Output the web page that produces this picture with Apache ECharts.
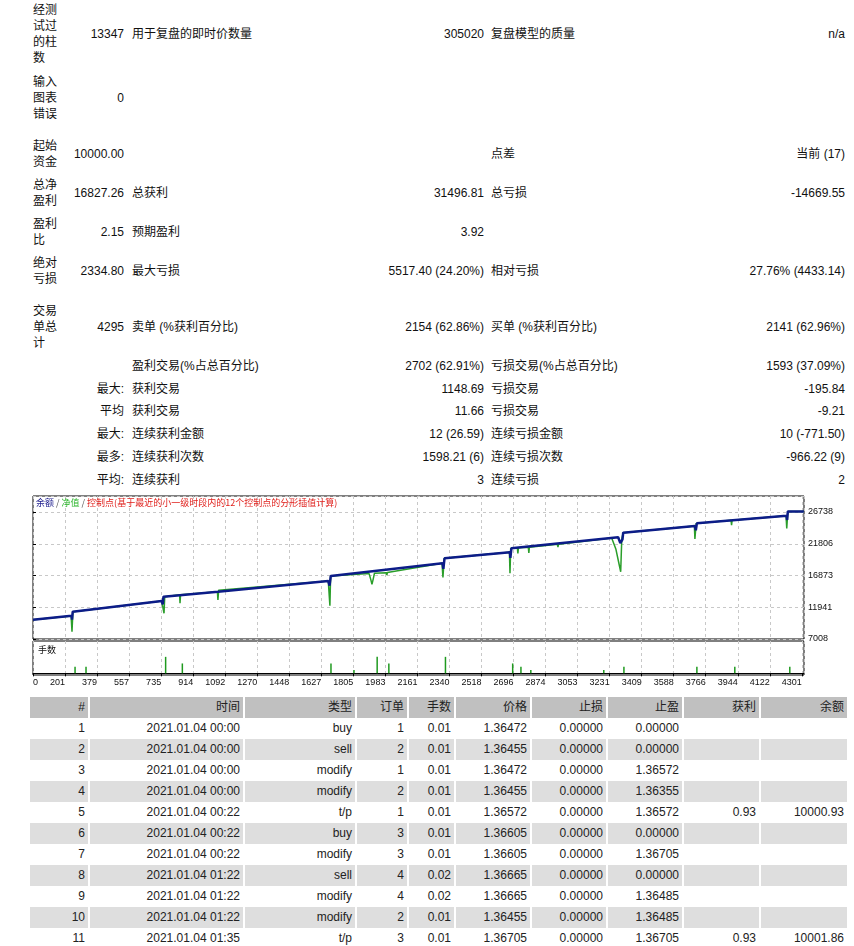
<!DOCTYPE html>
<html lang="zh">
<head>
<meta charset="UTF-8">
<title>Strategy Tester Report</title>
<script src="https://cdn.jsdelivr.net/npm/echarts@6.0.0/dist/echarts.min.js"></script>
<style>
    body { margin:0; width:854px; height:946px; overflow:hidden; background:#fff; position:relative;
           font-family:"Liberation Sans","Noto Sans CJK SC",sans-serif; font-size:12px; color:#111; }
    .cell { position:absolute; transform:translateY(-50%); white-space:nowrap; line-height:16px; }
    .ca { left:33px; width:26px; white-space:normal; word-break:break-all; }
    .cb { left:40px; width:84px; text-align:right; }
    .cc { left:132px; }
    .cd { left:300px; width:184px; text-align:right; }
    .ce { left:491px; }
    .cf { left:600px; width:245px; text-align:right; }
    #trades { position:absolute; left:28px; top:697px; width:821px; border-collapse:separate; border-spacing:2px 0;
              table-layout:fixed; font-size:12px; }
    #trades th, #trades td { box-sizing:border-box; height:21px; line-height:21px; padding:0 3px 0 0;
              text-align:right; font-weight:normal; white-space:nowrap; overflow:hidden; color:#222; }
    #trades th { background:#c0c0c0; }
    #trades tr.g td { background:#dedede; }
    #tu { position:absolute; left:0; top:490px; width:854px; height:205px; }
</style>
</head>
<body>
<div id="stats"></div>
<div id="tu"></div>
<table id="trades"></table>
<script type="text/javascript">
    // 报告统计（六列）
    var statLabelA = ['经测试过的柱数', '输入图表错误', '起始资金', '总净盈利', '盈利比', '绝对亏损', '交易单总计', '', '', '', '', '', ''];
    var statValueB = ['13347', '0', '10000.00', '16827.26', '2.15', '2334.80', '4295', '', '最大:', '平均', '最大:', '最多:', '平均:'];
    var statLabelC = ['用于复盘的即时价数量', '', '', '总获利', '预期盈利', '最大亏损', '卖单 (%获利百分比)', '盈利交易(%占总百分比)', '获利交易', '获利交易', '连续获利金额', '连续获利次数', '连续获利'];
    var statValueD = ['305020', '', '', '31496.81', '3.92', '5517.40 (24.20%)', '2154 (62.86%)', '2702 (62.91%)', '1148.69', '11.66', '12 (26.59)', '1598.21 (6)', '3'];
    var statLabelE = ['复盘模型的质量', '', '点差', '总亏损', '', '相对亏损', '买单 (%获利百分比)', '亏损交易(%占总百分比)', '亏损交易', '亏损交易', '连续亏损金额', '连续亏损次数', '连续亏损'];
    var statValueF = ['n/a', '', '当前 (17)', '-14669.55', '', '27.76% (4433.14)', '2141 (62.96%)', '1593 (37.09%)', '-195.84', '-9.21', '10 (-771.50)', '-966.22 (9)', '2'];

    // 余额/净值曲线（交易序号, 金额）
    var balancePoints = [[0,10000],[215,10620],[217,10000],[221,11250],[716,12900],[722,12400],[726,13580],
        [1029,14350],[1033,14600],[1643,16020],[1650,15300],[1657,16800],[2279,18770],[2283,17900],[2290,19545],
        [2654,20480],[2656,19600],[2662,21100],[3256,22810],[3268,21900],[3280,22500],[3284,23520],
        [3683,24560],[3688,23900],[3694,24980],[4193,26160],[4196,25500],[4200,26827],[4289,26827]];
    var equityPoints = [[0,10000],[212,10600],[217,8140],[222,11250],[716,12900],[727,12950],[729,11000],[733,13570],
        [816,13880],[818,12550],[821,13900],[1026,14340],[1029,13070],[1033,14600],[1643,16020],[1650,16000],
        [1652,12180],[1656,16790],[1870,17170],[1880,16200],[1886,15500],[1892,16200],[1900,17220],[1966,17300],
        [1969,16950],[1972,17340],[2276,18760],[2281,16560],[2288,19540],[2651,20470],[2654,17215],[2658,21090],
        [2695,21150],[2698,20320],[2701,21170],[2756,21260],[2759,20370],[2762,21280],[2918,21710],[2921,21300],
        [2924,21720],[3220,22700],[3243,21000],[3262,18500],[3270,17460],[3276,22500],[3284,23520],[3680,24550],
        [3683,22540],[3690,24970],[3884,25450],[3887,24700],[3890,25460],[4190,26150],[4194,24200],[4200,26827],[4289,26827]];
    var lotPoints = [[234,0.02],[295,0.02],[738,0.05],[831,0.03],[1658,0.03],[1786,0.01],[1915,0.05],[1980,0.03],
        [2295,0.05],[2669,0.03],[2715,0.02],[2770,0.01],[3176,0.01],[3288,0.02],[3694,0.02],[3905,0.02],[4211,0.02]];
    var xTickLabels = ['0','201','379','557','735','914','1092','1270','1448','1627','1805','1983','2161','2340',
        '2518','2696','2874','3053','3231','3409','3588','3766','3944','4122','4301'];

    // 交易明细
    var tradeHeaders = ['#', '时间', '类型', '订单', '手数', '价格', '止损', '止盈', '获利', '余额'];
    var tradeTimes = ['2021.01.04 00:00','2021.01.04 00:00','2021.01.04 00:00','2021.01.04 00:00','2021.01.04 00:22',
        '2021.01.04 00:22','2021.01.04 00:22','2021.01.04 01:22','2021.01.04 01:22','2021.01.04 01:22','2021.01.04 01:35'];
    var tradeTypes = ['buy','sell','modify','modify','t/p','buy','modify','sell','modify','modify','t/p'];
    var tradeOrders = [1,2,1,2,1,3,3,4,4,2,3];
    var tradeLots = ['0.01','0.01','0.01','0.01','0.01','0.01','0.01','0.02','0.02','0.01','0.01'];
    var tradePrices = ['1.36472','1.36455','1.36472','1.36455','1.36572','1.36605','1.36605','1.36665','1.36665','1.36455','1.36705'];
    var tradeSL = ['0.00000','0.00000','0.00000','0.00000','0.00000','0.00000','0.00000','0.00000','0.00000','0.00000','0.00000'];
    var tradeTP = ['0.00000','0.00000','1.36572','1.36355','1.36572','0.00000','1.36705','0.00000','1.36485','1.36485','1.36705'];
    var tradeProfit = ['','','','','0.93','','','','','','0.93'];
    var tradeBalance = ['','','','','10000.93','','','','','','10001.86'];

    // 布局
    var rowCenters = [34, 98, 154, 192.5, 231.5, 271, 327, 366, 389, 411, 434, 457, 480];
    var colWidths = [58, 153, 110, 50, 45, 74, 74, 74, 75, 86];

    var html = '';
    rowCenters.forEach(function (y, i) {
        var cols = [['ca', statLabelA], ['cb', statValueB], ['cc', statLabelC], ['cd', statValueD], ['ce', statLabelE], ['cf', statValueF]];
        cols.forEach(function (c) {
            if (c[1][i] !== '') html += '<div class="cell ' + c[0] + '" style="top:' + y + 'px">' + c[1][i] + '</div>';
        });
    });
    document.getElementById('stats').innerHTML = html;

    var t = '<colgroup>';
    colWidths.forEach(function (w) { t += '<col style="width:' + w + 'px">'; });
    t += '</colgroup><tr>';
    tradeHeaders.forEach(function (h) { t += '<th>' + h + '</th>'; });
    t += '</tr>';
    for (var i = 0; i < tradeTimes.length; i++) {
        t += '<tr class="' + (i % 2 ? 'g' : '') + '"><td>' + (i + 1) + '</td><td>' + tradeTimes[i] + '</td><td>' + tradeTypes[i] +
            '</td><td>' + tradeOrders[i] + '</td><td>' + tradeLots[i] + '</td><td>' + tradePrices[i] + '</td><td>' + tradeSL[i] +
            '</td><td>' + tradeTP[i] + '</td><td>' + tradeProfit[i] + '</td><td>' + tradeBalance[i] + '</td></tr>';
    }
    document.getElementById('trades').innerHTML = t;

    var xStep = 178.25;
    var dashGrid = { show: true, lineStyle: { color: '#c8c8c8', type: [3, 3], width: 1 } };
    var font = 'Liberation Sans';
    var thisChart = echarts.init(document.getElementById('tu'));
    var option = {
        animation: false,
        title: [{
            left: 36, top: 8, padding: 0,
            text: '{a|余额} {s|/} {b|净值} {s|/} {c|控制点(基于最近的小一级时段内的12个控制点的分形插值计算)}',
            textStyle: {
                fontSize: 9, fontWeight: 'normal', fontFamily: 'Noto Sans CJK SC',
                rich: {
                    a: { color: '#1a1a8c', fontSize: 9 },
                    b: { color: '#2ab52a', fontSize: 9 },
                    c: { color: '#e0201c', fontSize: 9 },
                    s: { color: '#555', fontSize: 9 }
                }
            }
        }, {
            left: 38, top: 155, padding: 0, text: '手数',
            textStyle: { fontSize: 9, fontWeight: 'normal', color: '#111', fontFamily: 'Noto Sans CJK SC' }
        }],
        grid: [
            { left: 33, right: 50, top: 6, height: 143, show: true, borderColor: '#000', borderWidth: 1 },
            { left: 33, right: 50, top: 151, height: 34, show: true, borderColor: '#000', borderWidth: 1 }
        ],
        xAxis: [
            { type: 'value', gridIndex: 0, min: 0, max: 4290, interval: xStep, axisLine: { show: false },
              axisTick: { show: false }, axisLabel: { show: false }, splitLine: dashGrid },
            { type: 'value', gridIndex: 1, min: 0, max: 4290, interval: xStep, position: 'bottom',
              axisLine: { show: true, lineStyle: { color: '#000' } },
              axisTick: { show: true, length: 3, lineStyle: { color: '#000' } },
              splitLine: dashGrid,
              axisLabel: {
                  fontSize: 9, fontFamily: font, color: '#111', margin: 3, align: 'right', showMaxLabel: false,
                  formatter: function (v) {
                      var k = Math.round(v / xStep);
                      return (k >= 1 && k < xTickLabels.length) ? xTickLabels[k] : '';
                  }
              } },
            { type: 'value', gridIndex: 1, min: 0, max: 4290, interval: xStep, position: 'bottom',
              axisLine: { show: false }, axisTick: { show: false }, splitLine: { show: false },
              axisLabel: {
                  fontSize: 9, fontFamily: font, color: '#111', margin: 3, align: 'left', showMaxLabel: false,
                  formatter: function (v) { return v === 0 ? xTickLabels[0] : ''; }
              } }
        ],
        yAxis: [
            { type: 'value', gridIndex: 0, position: 'right', min: 7008, max: 29224, interval: 4932.5,
              axisLine: { show: false }, axisTick: { show: true, length: 3, lineStyle: { color: '#000' } },
              splitLine: dashGrid,
              axisLabel: { fontSize: 9, fontFamily: font, color: '#111', margin: 4, showMaxLabel: false,
                  formatter: function (v) { return Math.round(v); } } },
            { type: 'value', gridIndex: 1, min: -0.005, max: 0.098, axisLine: { show: false },
              axisTick: { show: false }, axisLabel: { show: false }, splitLine: { show: false } }
        ],
        series: [
            { name: '净值', type: 'line', xAxisIndex: 0, yAxisIndex: 0, data: equityPoints, showSymbol: false,
              lineStyle: { color: '#2a9e2a', width: 1.5 }, z: 2 },
            { name: '余额', type: 'line', xAxisIndex: 0, yAxisIndex: 0, data: balancePoints, showSymbol: false,
              lineStyle: { color: '#0c1c88', width: 2.5 }, z: 3 },
            { name: '手数', type: 'bar', xAxisIndex: 1, yAxisIndex: 1, data: lotPoints, barWidth: 1.5,
              itemStyle: { color: '#1f9a1f' } }
        ]
    };
    thisChart.setOption(option);
</script>
</body>
</html>
